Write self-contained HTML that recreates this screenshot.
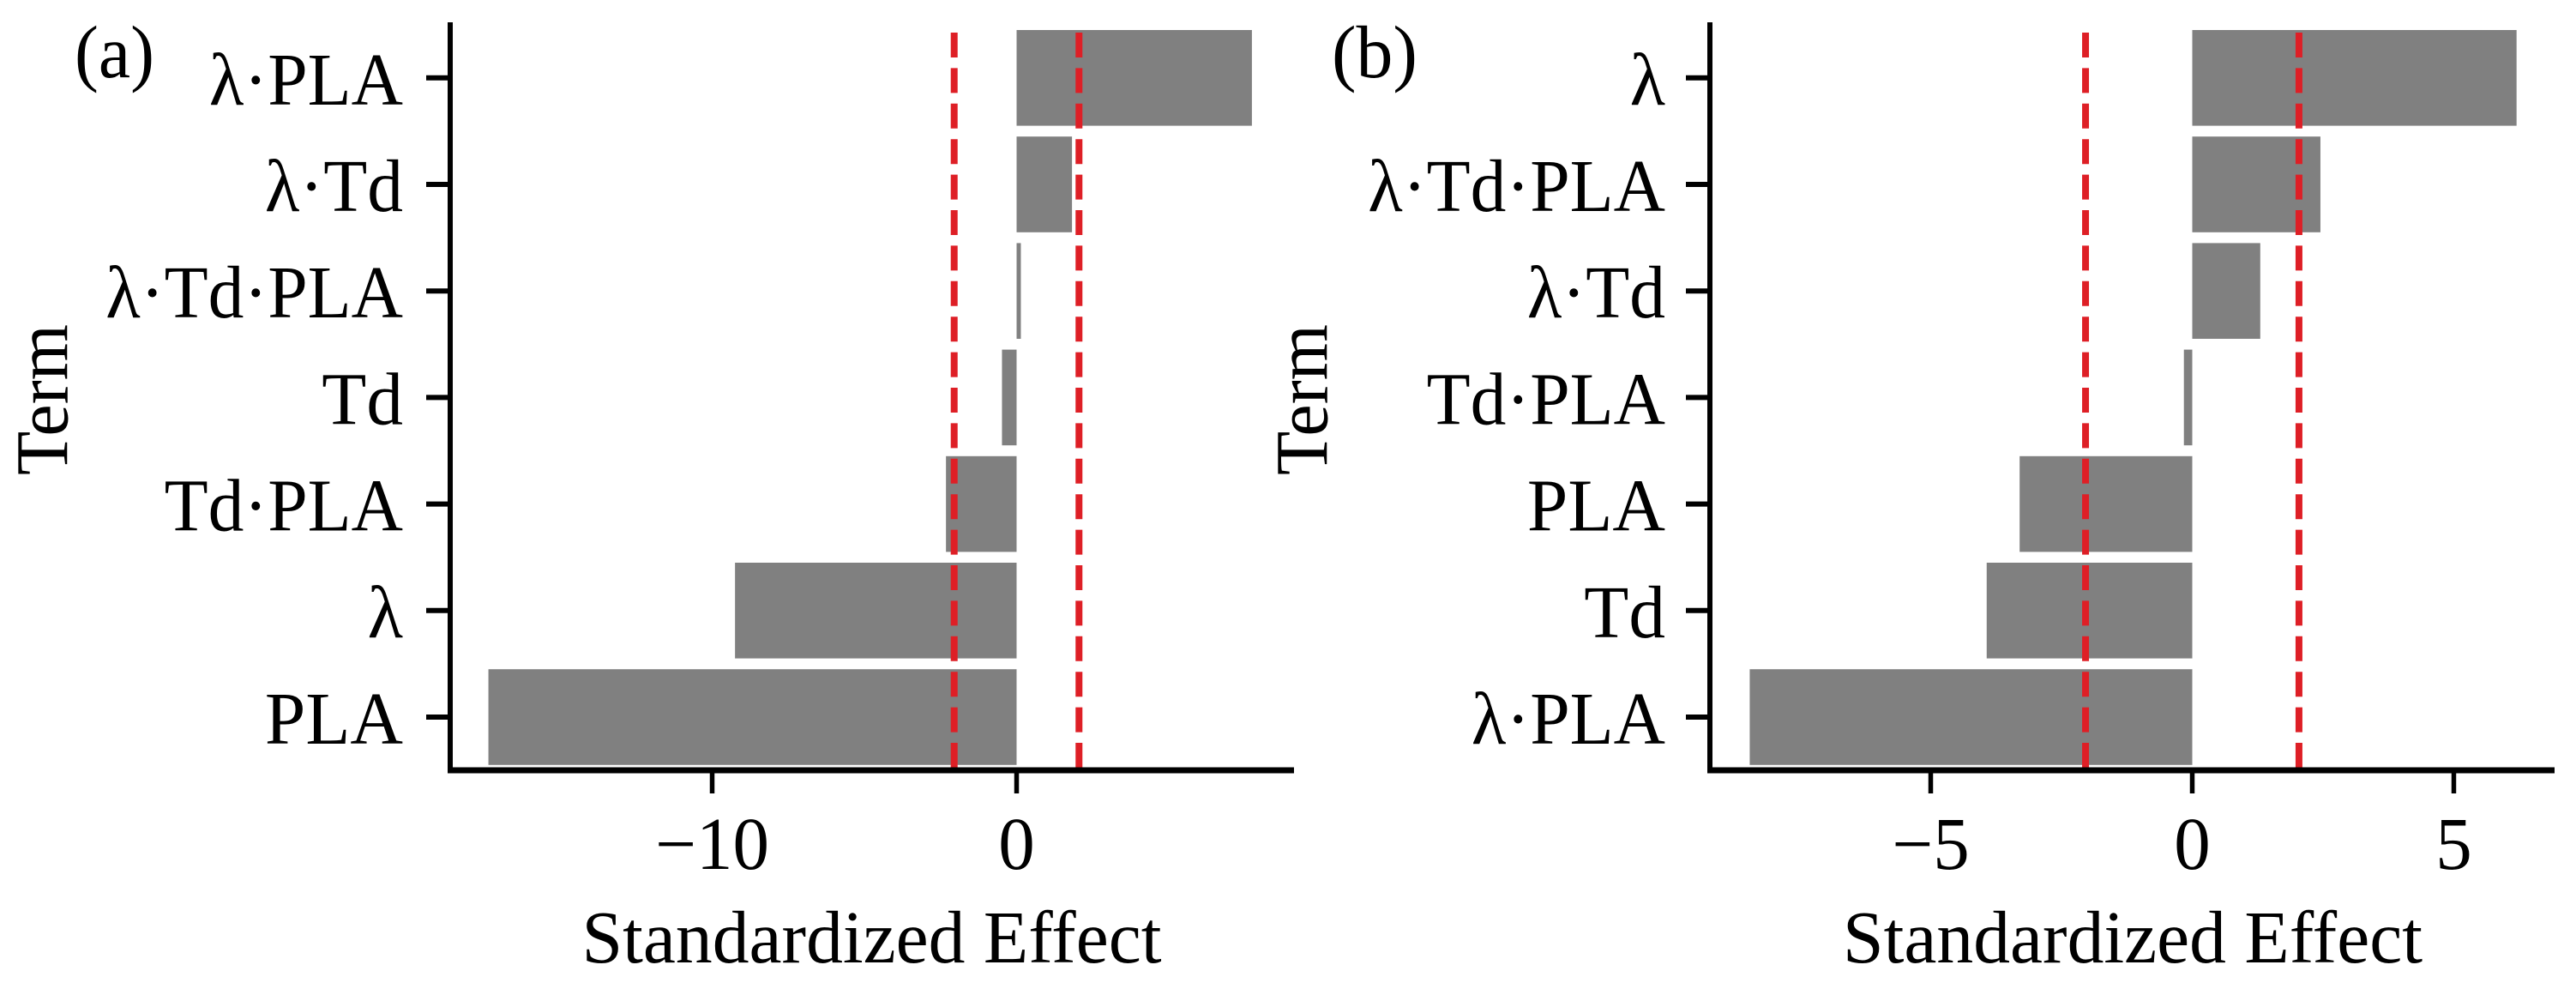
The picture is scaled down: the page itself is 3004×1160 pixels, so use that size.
<!DOCTYPE html>
<html lang="en">
<head>
<meta charset="utf-8">
<title>Standardized Effect Pareto Charts</title>
<style>
html,body{margin:0;padding:0;background:#fff;}
svg{display:block;}
text{font-family:"Liberation Serif",serif;fill:#000;font-size:87px;}
</style>
</head>
<body>
<svg id="figure" width="3004" height="1160" viewBox="0 0 3004 1160" xmlns="http://www.w3.org/2000/svg">
  <rect x="0" y="0" width="3004" height="1160" fill="#fff"/>
  <g id="panel-a">
    <text x="87" y="90" textLength="93" lengthAdjust="spacingAndGlyphs">(a)</text>
    <text transform="translate(78.5,466) rotate(-90)" text-anchor="middle" textLength="176" lengthAdjust="spacingAndGlyphs">Term</text>
    <text x="1016.5" y="1122" text-anchor="middle" textLength="676" lengthAdjust="spacingAndGlyphs">Standardized Effect</text>
  </g>
  <g id="panel-b">
    <text x="1553" y="90" textLength="100" lengthAdjust="spacingAndGlyphs">(b)</text>
    <text transform="translate(1547.5,466) rotate(-90)" text-anchor="middle" textLength="176" lengthAdjust="spacingAndGlyphs">Term</text>
    <text x="2487" y="1122" text-anchor="middle" textLength="676" lengthAdjust="spacingAndGlyphs">Standardized Effect</text>
  </g>
</svg>
<script>
const termsA = ["λ·PLA", "λ·Td", "λ·Td·PLA", "Td", "Td·PLA", "λ", "PLA"];
const effectsA = [7.73, 1.82, 0.14, -0.48, -2.32, -9.25, -17.35];
const tickValuesA = [-10, 0];
const tickLabelsA = ["−10", "0"];
const thresholdsA = [-2.05, 2.05];

const termsB = ["λ", "λ·Td·PLA", "λ·Td", "Td·PLA", "PLA", "Td", "λ·PLA"];
const effectsB = [6.2, 2.45, 1.3, -0.16, -3.3, -3.93, -8.46];
const tickValuesB = [-5, 0, 5];
const tickLabelsB = ["−5", "0", "5"];
const thresholdsB = [-2.04, 2.04];

const NS = "http://www.w3.org/2000/svg";

function bandCenter(i) { return 90.8 + i * 124.2; }

function condense(node, factor) {
  node.setAttribute("lengthAdjust", "spacingAndGlyphs");
  node.setAttribute("textLength", node.getComputedTextLength() * factor);
}

function drawPanel(group, left, right, zeroX, pxPerUnit, labelRight, terms, effects, tickValues, tickLabels, thresholds) {
  const xScale = function (v) { return zeroX + v * pxPerUnit; };
  const axisY = 898;
  const axisTop = 26;
  const barHeight = 111.6;

  terms.forEach(function (term, i) {
    const v = effects[i];
    const x0 = xScale(Math.min(0, v));
    const x1 = xScale(Math.max(0, v));
    const bar = document.createElementNS(NS, "rect");
    
    
    bar.setAttribute("x", x0);
    bar.setAttribute("y", bandCenter(i) - barHeight / 2);
    bar.setAttribute("width", x1 - x0);
    bar.setAttribute("height", barHeight);
    bar.setAttribute("fill", "#808080");
    group.appendChild(bar);
  });

  thresholds.forEach(function (t) {
    const line = document.createElementNS(NS, "line");
    
    
    line.setAttribute("x1", xScale(t));
    line.setAttribute("x2", xScale(t));
    line.setAttribute("y1", 38);
    line.setAttribute("y2", axisY);
    line.setAttribute("stroke", "#de1f26");
    line.setAttribute("stroke-width", 8);
    line.setAttribute("stroke-dasharray", "29 12.4");
    group.appendChild(line);
  });

  const ySpine = document.createElementNS(NS, "line");
  
  
  ySpine.setAttribute("x1", left);
  ySpine.setAttribute("x2", left);
  ySpine.setAttribute("y1", axisTop);
  ySpine.setAttribute("y2", axisY + 3);
  ySpine.setAttribute("stroke", "#000");
  ySpine.setAttribute("stroke-width", 6);
  group.appendChild(ySpine);

  const xSpine = document.createElementNS(NS, "line");
  
  
  xSpine.setAttribute("x1", left - 3);
  xSpine.setAttribute("x2", right);
  xSpine.setAttribute("y1", axisY);
  xSpine.setAttribute("y2", axisY);
  xSpine.setAttribute("stroke", "#000");
  xSpine.setAttribute("stroke-width", 7);
  group.appendChild(xSpine);

  terms.forEach(function (term, i) {
    const cy = bandCenter(i);
    const tick = document.createElementNS(NS, "line");
    
    
    tick.setAttribute("x1", left - 28);
    tick.setAttribute("x2", left);
    tick.setAttribute("y1", cy);
    tick.setAttribute("y2", cy);
    tick.setAttribute("stroke", "#000");
    tick.setAttribute("stroke-width", 6);
    group.appendChild(tick);

    const label = document.createElementNS(NS, "text");
    
    
    label.setAttribute("x", labelRight);
    label.setAttribute("y", cy + 31);
    label.setAttribute("text-anchor", "end");
    label.textContent = term;
    group.appendChild(label);
    condense(label, term.indexOf("·") >= 0 ? 0.96 : 0.98);
  });

  tickValues.forEach(function (v, i) {
    const tick = document.createElementNS(NS, "line");
    
    
    tick.setAttribute("x1", xScale(v));
    tick.setAttribute("x2", xScale(v));
    tick.setAttribute("y1", axisY);
    tick.setAttribute("y2", 925);
    tick.setAttribute("stroke", "#000");
    tick.setAttribute("stroke-width", 5.5);
    group.appendChild(tick);

    const label = document.createElementNS(NS, "text");
    
    
    label.setAttribute("x", xScale(v));
    label.setAttribute("y", 1013);
    label.setAttribute("text-anchor", "middle");
    label.textContent = tickLabels[i];
    group.appendChild(label);
    condense(label, 0.977);
  });
}

drawPanel(document.getElementById("panel-a"), 525, 1509, 1185.5, 35.5, 470, termsA, effectsA, tickValuesA, tickLabelsA, thresholdsA);
drawPanel(document.getElementById("panel-b"), 1994, 2979, 2556.5, 61, 1942, termsB, effectsB, tickValuesB, tickLabelsB, thresholdsB);
</script>
</body>
</html>
